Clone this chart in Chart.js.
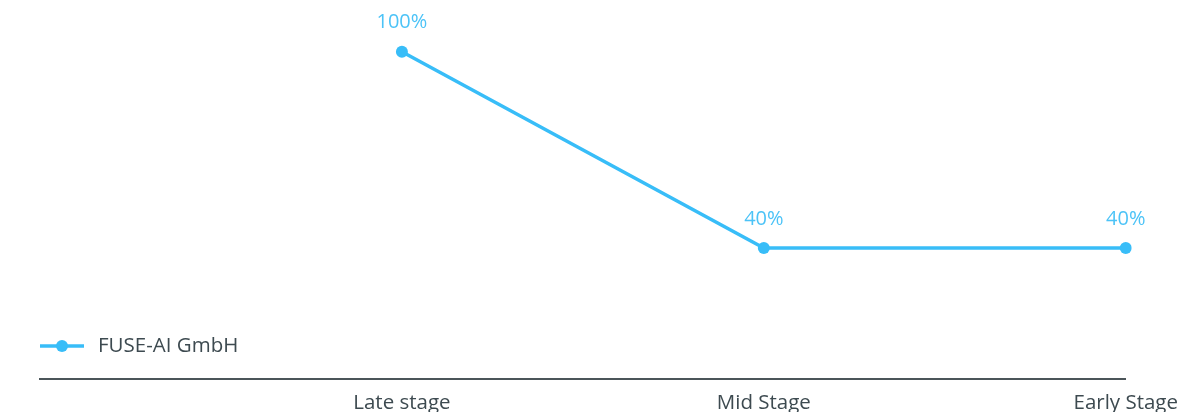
<!DOCTYPE html>
<html>
<head>
<meta charset="utf-8">
<script src="https://cdn.jsdelivr.net/npm/chart.js@4"></script>
<style>
  html, body { margin: 0; padding: 0; background: #fff; overflow: hidden; }
  #wrap { width: 1180px; height: 412px; overflow: hidden; }
</style>
</head>
<body>
<div id="wrap"><canvas id="stageChart" width="1190" height="412"></canvas></div>
<script>
const stages = ['', 'Late stage', 'Mid Stage', 'Early Stage'];
const shares = [null, 100, 40, 40];
const seriesName = 'FUSE-AI GmbH';

const lineColor = '#38bdf8';
const labelColor = '#4cc3f7';
const textColor = '#3d4a50';
const fontFamily = '"Open Sans", "Noto Sans", sans-serif';

// percentages over each point
const valueLabels = {
  id: 'valueLabels',
  afterDatasetsDraw(chart) {
    const ctx = chart.ctx;
    const meta = chart.getDatasetMeta(0);
    ctx.save();
    ctx.font = '20px ' + fontFamily;
    ctx.fillStyle = labelColor;
    ctx.textAlign = 'center';
    ctx.textBaseline = 'middle';
    meta.data.forEach((pt, i) => {
      const v = chart.data.datasets[0].data[i];
      if (v == null) return;
      ctx.fillText(v + '%', pt.x, pt.y - 29);
    });
    ctx.restore();
  }
};

// legend sits inside the plot, just above the axis line
const insideLegend = {
  id: 'insideLegend',
  afterDraw(chart) {
    const ctx = chart.ctx;
    const area = chart.chartArea;
    const y = area.bottom - 33;
    const x0 = area.left;
    ctx.save();
    ctx.strokeStyle = lineColor;
    ctx.lineWidth = 3.5;
    ctx.beginPath();
    ctx.moveTo(x0, y);
    ctx.lineTo(x0 + 44, y);
    ctx.stroke();
    ctx.fillStyle = lineColor;
    ctx.beginPath();
    ctx.arc(x0 + 22, y, 6, 0, Math.PI * 2);
    ctx.fill();
    ctx.font = '20.5px ' + fontFamily;
    ctx.fillStyle = textColor;
    ctx.textAlign = 'left';
    ctx.textBaseline = 'middle';
    ctx.fillText(chart.data.datasets[0].label, x0 + 58, y);
    ctx.restore();
  }
};

new Chart(document.getElementById('stageChart'), {
  type: 'line',
  data: {
    labels: stages,
    datasets: [{
      label: seriesName,
      data: shares,
      borderColor: lineColor,
      backgroundColor: lineColor,
      borderWidth: 3.5,
      pointRadius: 6,
      pointHoverRadius: 6,
      pointBackgroundColor: lineColor,
      pointBorderWidth: 0,
      tension: 0,
      spanGaps: false
    }]
  },
  options: {
    responsive: false,
    animation: false,
    layout: { padding: { left: 40, right: 50, top: 19, bottom: 0 } },
    plugins: {
      legend: { display: false },
      tooltip: { enabled: false }
    },
    scales: {
      x: {
        offset: false,
        grid: { display: false, drawTicks: false },
        border: { display: true, color: '#4b5559', width: 2 },
        ticks: {
          color: textColor,
          font: { family: fontFamily, size: 20.5 },
          padding: 12,
          maxRotation: 0,
          autoSkip: false
        },
        afterFit(scale) { scale.height = 33; }
      },
      y: {
        display: false,
        min: 0,
        max: 110
      }
    }
  },
  plugins: [valueLabels, insideLegend]
});
</script>
</body>
</html>
